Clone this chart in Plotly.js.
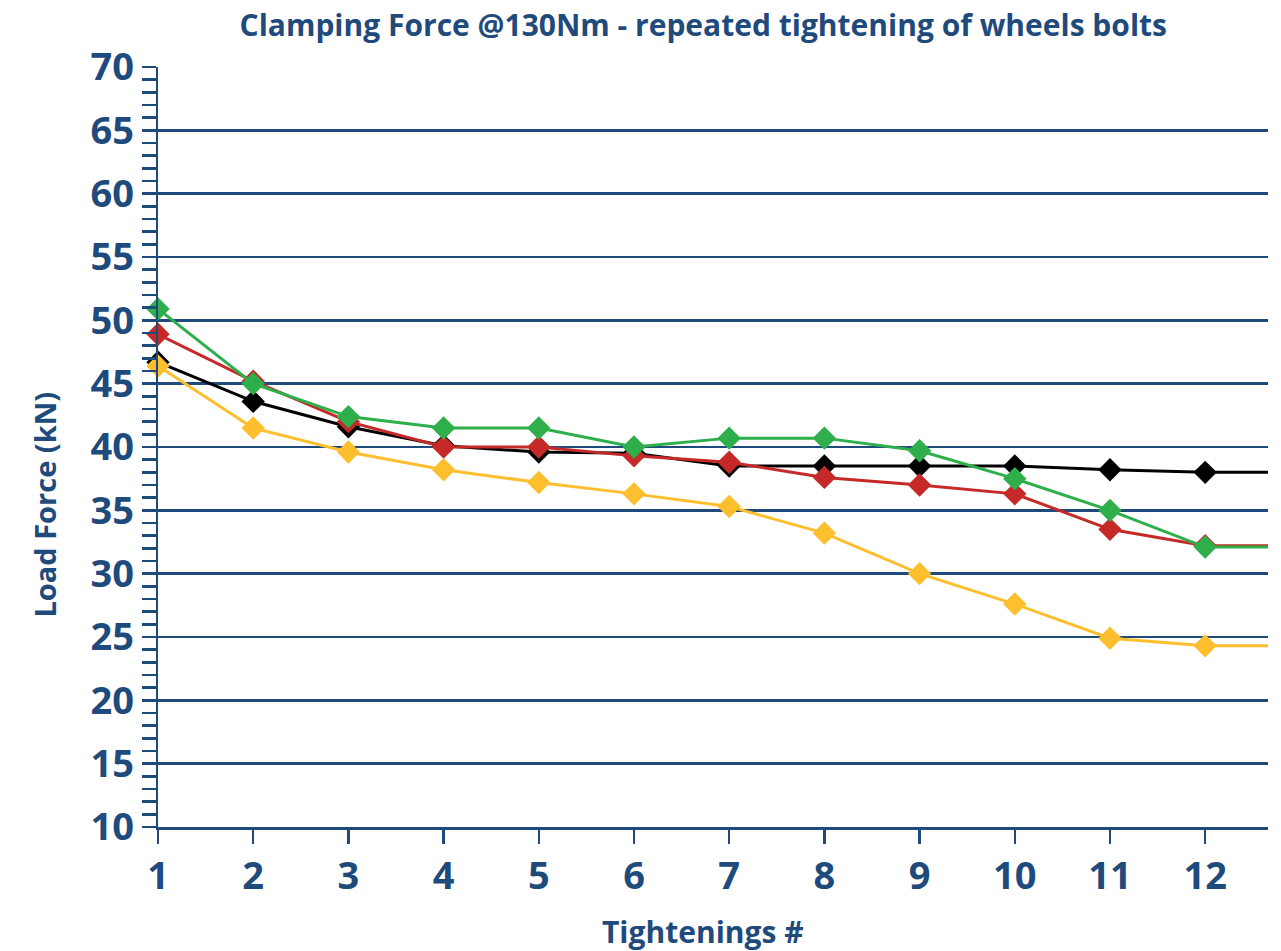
<!DOCTYPE html>
<html>
<head>
<meta charset="utf-8">
<script src="https://cdn.plot.ly/plotly-3.0.1.min.js"></script>
<style>
  html, body { margin: 0; padding: 0; background: #ffffff; }
  #chart { width: 1281px; height: 951px; }
</style>
</head>
<body>
<div id="chart"></div>
<script>
// Tightening number (13th entry only carries the line on to the right edge, no marker)
const tightenings = [1, 2, 3, 4, 5, 6, 7, 8, 9, 10, 11, 12, 13];
const tickLabels = ['1', '2', '3', '4', '5', '6', '7', '8', '9', '10', '11', '12'];

const seriesBlack  = [46.7, 43.6, 41.6, 40.1, 39.6, 39.5, 38.5, 38.5, 38.5, 38.5, 38.2, 38.0, 38.0];
const seriesRed    = [48.9, 45.2, 42.0, 40.0, 40.0, 39.3, 38.8, 37.6, 37.0, 36.3, 33.5, 32.2, 32.2];
const seriesGreen  = [50.9, 45.0, 42.4, 41.5, 41.5, 40.0, 40.7, 40.7, 39.7, 37.5, 35.0, 32.1, 32.1];
const seriesYellow = [46.4, 41.5, 39.6, 38.2, 37.2, 36.3, 35.3, 33.2, 30.0, 27.6, 24.9, 24.3, 24.3];

const navy = '#1f4a7c';
const markerSizes = tightenings.map(t => t <= 12 ? 18 : 0);

function mk(y, color) {
  return {
    x: tightenings, y: y, type: 'scatter', mode: 'lines+markers',
    line: { color: color, width: 3 },
    marker: { symbol: 'diamond', size: markerSizes, color: color, opacity: 1, line: { width: 0 } },
    opacity: 1,
    cliponaxis: false,
    hoverinfo: 'x+y'
  };
}

const data = [
  mk(seriesBlack, '#000000'),
  mk(seriesRed, '#c62a28'),
  mk(seriesGreen, '#2eaf4b'),
  mk(seriesYellow, '#fdbf2d')
];

const layout = {
  width: 1281, height: 951,
  paper_bgcolor: '#ffffff', plot_bgcolor: '#ffffff',
  margin: { l: 158, r: 13, t: 67, b: 124 },
  showlegend: false,
  font: { family: 'Open Sans, sans-serif', color: navy },
  title: {
    text: '<b>Clamping Force @130Nm - repeated tightening of wheels bolts</b>',
    font: { size: 30, color: navy, family: 'Open Sans, sans-serif' },
    x: 0.549, xanchor: 'center', y: 0.973, yanchor: 'middle'
  },
  xaxis: {
    range: [1, 12.66],
    tickmode: 'array',
    tickvals: tickLabels.map(Number),
    ticktext: tickLabels,
    showgrid: false, zeroline: false,
    showline: true, linecolor: navy, linewidth: 2.5,
    ticks: 'outside', ticklen: 14, tickwidth: 2.5, tickcolor: navy,
    tickfont: { size: 38, color: navy, family: 'Open Sans, sans-serif', weight: 'bold' }
  },
  yaxis: {
    range: [10, 70],
    tick0: 10, dtick: 5,
    showgrid: true, gridcolor: navy, gridwidth: 2.5,
    zeroline: false,
    showline: true, linecolor: navy, linewidth: 2.5,
    ticks: 'outside', ticklen: 14, tickwidth: 2.5, tickcolor: navy,
    minor: { dtick: 1, ticks: 'outside', ticklen: 14, tickwidth: 2.5, tickcolor: navy, showgrid: false },
    tickfont: { size: 38, color: navy, family: 'Open Sans, sans-serif', weight: 'bold' }
  },
  annotations: [
    {
      text: '<b>Tightenings #</b>', xref: 'paper', yref: 'paper',
      x: 0.491, y: -0.138, xanchor: 'center', yanchor: 'middle', showarrow: false,
      font: { size: 30, color: navy, family: 'Open Sans, sans-serif' }
    },
    {
      text: '<b>Load Force (kN)</b>', xref: 'paper', yref: 'paper', textangle: -90,
      x: -0.102, y: 0.424, xanchor: 'center', yanchor: 'middle', showarrow: false,
      font: { size: 29, color: navy, family: 'Open Sans, sans-serif' }
    }
  ]
};

Plotly.newPlot('chart', data, layout, { displayModeBar: false, staticPlot: true });
</script>
</body>
</html>
